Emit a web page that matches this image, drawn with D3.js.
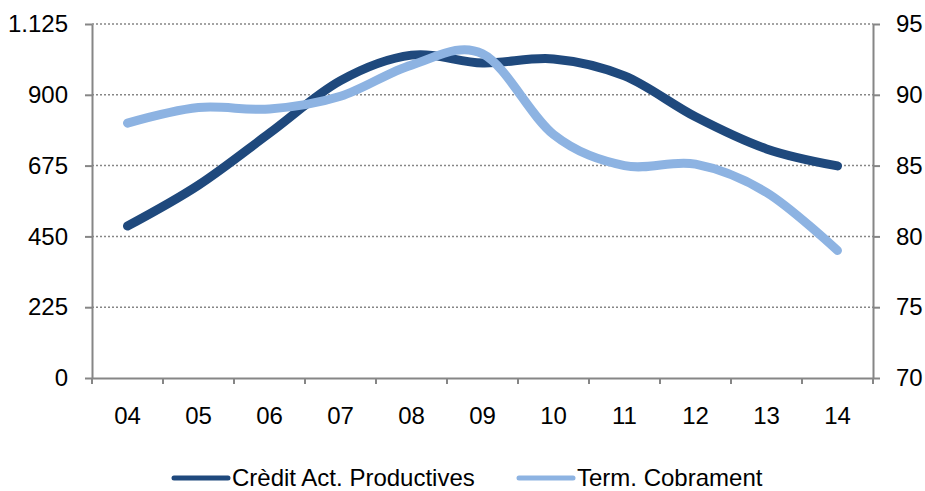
<!DOCTYPE html>
<html>
<head>
<meta charset="utf-8">
<script src="https://cdn.jsdelivr.net/npm/d3@7"></script>
<style>
  body { margin: 0; background: #fff; }
  text { font-family: "Liberation Sans", Arial, sans-serif; fill: #000; }
</style>
</head>
<body>
<div id="chart"></div>
<script>
// dades llegides del gràfic
const categories = ["04", "05", "06", "07", "08", "09", "10", "11", "12", "13", "14"];
const creditValues = [483, 613, 778, 945, 1026, 1001, 1014, 960, 830, 728, 674];
const termValues = [88.0, 89.1, 89.0, 89.9, 92.1, 92.9, 87.2, 85.0, 85.1, 83.1, 79.0];
const leftTicks = [0, 225, 450, 675, 900, 1125];
const rightTicks = [70, 75, 80, 85, 90, 95];
const seriesNames = ["Crèdit Act. Productives", "Term. Cobrament"];

const totalWidth = 925, totalHeight = 491;
const margin = { top: 24, left: 92, bottom: 113, right: 52 };
const width = totalWidth - margin.left - margin.right;
const height = totalHeight - margin.top - margin.bottom;
const darkBlue = "#1f497d", lightBlue = "#8db3e2", axisGray = "#868686";
const fontSize = 24;

const svg = d3.select("#chart").append("svg").attr("width", totalWidth).attr("height", totalHeight);
const g = svg.append("g").attr("transform", `translate(${margin.left}, ${margin.top})`);

const x = d3.scaleBand().domain(categories).range([0, width]);
const yLeft = d3.scaleLinear().domain([0, 1125]).range([height, 0]);
const yRight = d3.scaleLinear().domain([70, 95]).range([height, 0]);

const locale = d3.formatLocale({ decimal: ",", thousands: ".", grouping: [3], currency: ["", "€"] });
const fmt = locale.format(",d");

// gridlines puntejades
g.append("g").selectAll("line").data(leftTicks.filter(d => d > 0)).join("line")
  .attr("x1", 0).attr("x2", width)
  .attr("y1", d => yLeft(d)).attr("y2", d => yLeft(d))
  .attr("stroke", axisGray).attr("stroke-width", 1.5).attr("stroke-dasharray", "2,2");

// eixos
const leftAxis = g.append("g").call(d3.axisLeft(yLeft).tickValues(leftTicks).tickFormat(fmt).tickSize(7).tickPadding(17).tickSizeOuter(0));
const rightAxis = g.append("g").attr("transform", `translate(${width},0)`)
  .call(d3.axisRight(yRight).tickValues(rightTicks).tickSize(7).tickPadding(16).tickSizeOuter(0));
const xAxis = g.append("g").attr("transform", `translate(0,${height})`)
  .call(d3.axisBottom(x).tickSize(0).tickPadding(29).tickSizeOuter(0));

[leftAxis, rightAxis, xAxis].forEach(a => {
  a.selectAll("path, line").attr("stroke", axisGray).attr("stroke-width", 2);
  a.selectAll("text").attr("font-size", fontSize).attr("font-family", "Liberation Sans, Arial, sans-serif").attr("fill", "#000");
});

// marques de l'eix x entre categories
const edges = categories.map(c => x(c)).concat([width]);
xAxis.selectAll(".edge").data(edges).join("line").attr("class", "edge")
  .attr("x1", d => d).attr("x2", d => d).attr("y1", 0).attr("y2", 6)
  .attr("stroke", axisGray).attr("stroke-width", 2);

// linies
const cx = c => x(c) + x.bandwidth() / 2;
const lineLeft = d3.line().x((d, i) => cx(categories[i])).y(d => yLeft(d)).curve(d3.curveCardinal.tension(0));
const lineRight = d3.line().x((d, i) => cx(categories[i])).y(d => yRight(d)).curve(d3.curveCardinal.tension(0));

g.append("path").datum(creditValues).attr("d", lineLeft)
  .attr("fill", "none").attr("stroke", darkBlue).attr("stroke-width", 9)
  .attr("stroke-linecap", "round").attr("stroke-linejoin", "round");
g.append("path").datum(termValues).attr("d", lineRight)
  .attr("fill", "none").attr("stroke", lightBlue).attr("stroke-width", 9)
  .attr("stroke-linecap", "round").attr("stroke-linejoin", "round");

// llegenda
const legendItems = [
  { name: seriesNames[0], color: darkBlue, x: 174 },
  { name: seriesNames[1], color: lightBlue, x: 519 }
];
const legend = svg.append("g");
legendItems.forEach(d => {
  legend.append("line").attr("x1", d.x).attr("x2", d.x + 54).attr("y1", 478).attr("y2", 478)
    .attr("stroke", d.color).attr("stroke-width", 5).attr("stroke-linecap", "round");
  legend.append("text").attr("x", d.x + 58).attr("y", 485.5).attr("font-size", fontSize).text(d.name);
});
</script>
</body>
</html>
